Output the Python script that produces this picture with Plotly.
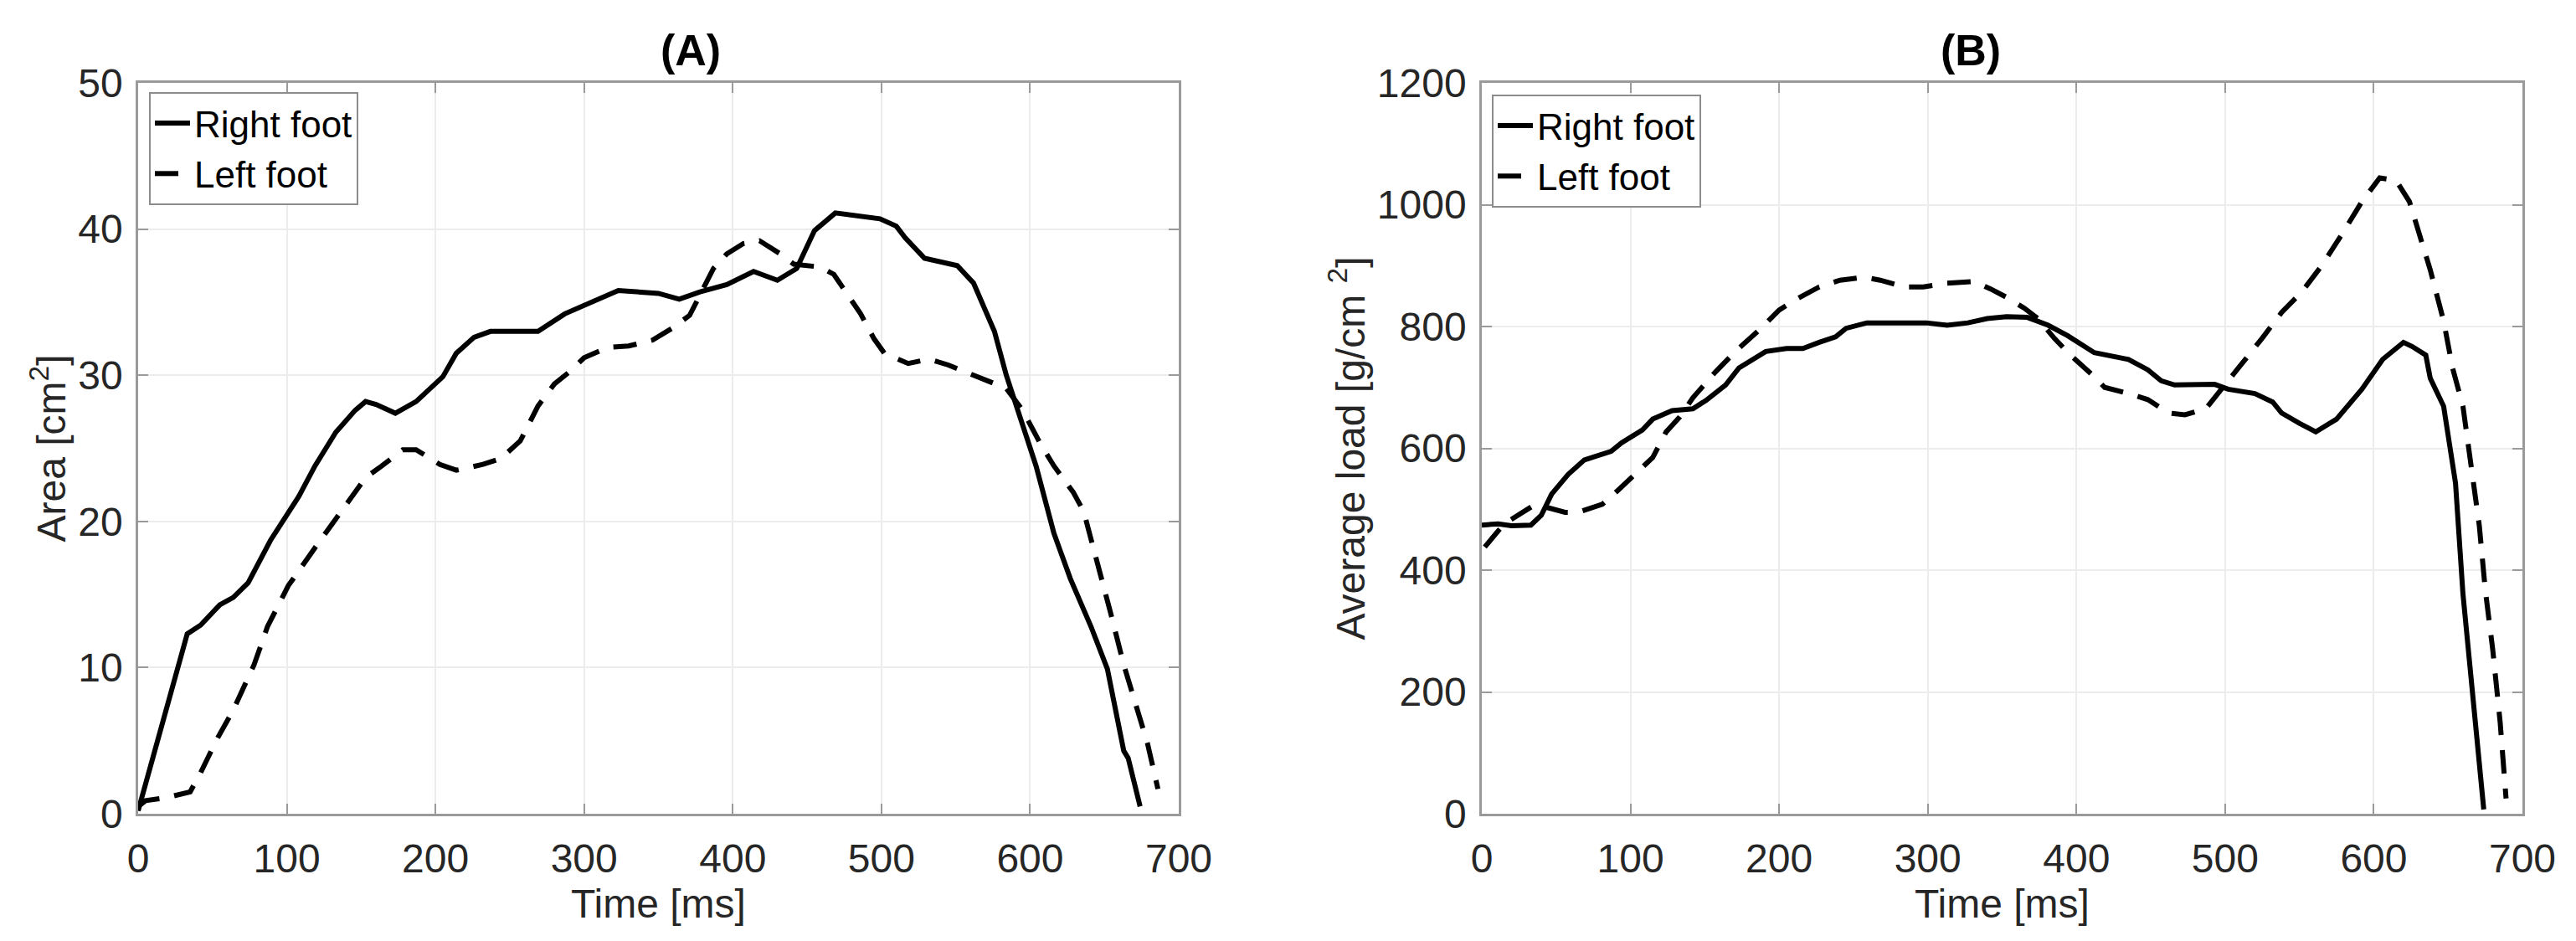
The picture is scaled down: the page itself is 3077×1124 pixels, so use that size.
import plotly.graph_objects as go

# (A) contact area [cm^2] vs time [ms]
area_right_t = [0, 16, 33, 42, 55, 64, 74, 89, 108, 119, 133, 146, 153, 160, 173, 187, 205, 214, 226, 237,
                269, 287, 309, 323, 350, 364, 378, 396, 414, 430, 443, 455, 469, 482, 499, 510, 516, 529,
                551, 562, 576, 584, 591, 604, 616, 627, 641, 652, 663, 666, 674]
area_right_v = [0.2, 6.0, 12.3, 12.9, 14.3, 14.8, 15.8, 18.7, 21.7, 23.8, 26.1, 27.6, 28.2, 28.0, 27.4, 28.2,
                29.9, 31.5, 32.6, 33.0, 33.0, 34.2, 35.2, 35.8, 35.6, 35.2, 35.7, 36.2, 37.1, 36.5, 37.3,
                39.9, 41.1, 40.9, 40.7, 40.2, 39.4, 38.0, 37.5, 36.3, 33.0, 30.0, 27.9, 23.8, 19.2, 16.1,
                12.8, 9.9, 4.3, 3.8, 0.5]
area_left_t = [0, 5, 19, 35, 42, 53, 64, 78, 87, 101, 119, 137, 153, 164, 178, 187, 203, 214, 232, 244, 257,
               269, 280, 291, 300, 316, 330, 346, 359, 371, 378, 387, 396, 407, 418, 432, 441, 459, 468, 477,
               486, 495, 502, 518, 532, 545, 559, 575, 584, 595, 607, 616, 629, 636, 645, 654, 663, 672,
               679, 686]
area_left_v = [0.5, 0.9, 1.1, 1.5, 2.8, 5.1, 7.1, 10.2, 12.8, 15.6, 18.2, 20.7, 23.0, 23.8, 24.9, 24.9, 23.9,
               23.5, 23.9, 24.3, 25.5, 27.9, 29.4, 30.3, 31.2, 31.9, 32.0, 32.4, 33.2, 34.1, 35.5, 37.3,
               38.3, 39.0, 39.2, 38.3, 37.6, 37.4, 36.9, 35.6, 34.2, 32.5, 31.5, 30.8, 31.1, 30.7, 30.1,
               29.4, 29.1, 27.6, 25.3, 23.8, 22.0, 20.7, 17.4, 13.8, 10.2, 7.1, 4.8, 1.7]

# (B) average load [g/cm^2] vs time [ms]
load_right_t = [0, 11, 20, 33, 40, 47, 58, 69, 87, 94, 108, 115, 128, 142, 151, 164, 173, 191, 205, 216,
                227, 238, 245, 259, 299, 313, 327, 340, 353, 367, 381, 394, 412, 421, 435, 448, 457, 466,
                493, 502, 520, 532, 538, 550, 561, 575, 583, 592, 606, 613, 620, 626, 635, 638, 647, 651,
                655, 660, 667, 671, 674]
load_right_v = [474, 476, 473, 474, 490, 525, 557, 581, 595, 609, 630, 648, 662, 665, 679, 704, 732, 759,
                764, 764, 774, 783, 797, 806, 806, 802, 806, 813, 816, 815, 802, 785, 757, 753, 746, 729,
                711, 704, 705, 697, 690, 676, 658, 641, 627, 648, 672, 697, 746, 760, 774, 767, 753, 715,
                669, 606, 543, 361, 193, 95, 7]
load_left_t = [2, 15, 36, 47, 56, 65, 81, 92, 106, 115, 124, 133, 142, 157, 171, 187, 200, 211, 227, 241,
               257, 268, 284, 297, 313, 331, 342, 353, 365, 374, 385, 396, 410, 419, 435, 448, 462, 473,
               487, 498, 509, 525, 538, 552, 565, 579, 592, 604, 615, 624, 631, 638, 647, 653, 660, 665,
               671, 675, 680, 685, 689]
load_left_v = [438, 476, 508, 501, 495, 495, 508, 532, 564, 585, 627, 651, 683, 725, 760, 795, 827, 844,
               865, 876, 881, 876, 865, 865, 871, 874, 862, 848, 830, 813, 781, 753, 722, 700, 690, 680,
               658, 655, 665, 697, 732, 781, 823, 858, 900, 953, 1005, 1044, 1040, 1005, 949, 893, 809,
               732, 669, 585, 473, 368, 270, 151, 25]

FONT = "Liberation Sans, Arial, sans-serif"
TXT = "#262626"
AX = "#9a9a9a"
DASH = "28px,18px"
LW = 6

fig = go.Figure()
fig.add_trace(go.Scatter(x=area_right_t, y=area_right_v, mode="lines", name="Right foot",
                         line=dict(color="black", width=LW), xaxis="x", yaxis="y", legend="legend"))
fig.add_trace(go.Scatter(x=area_left_t, y=area_left_v, mode="lines", name="Left foot",
                         line=dict(color="black", width=LW, dash=DASH), xaxis="x", yaxis="y", legend="legend"))
fig.add_trace(go.Scatter(x=load_right_t, y=load_right_v, mode="lines", name="Right foot",
                         line=dict(color="black", width=LW), xaxis="x2", yaxis="y2", legend="legend2"))
fig.add_trace(go.Scatter(x=load_left_t, y=load_left_v, mode="lines", name="Left foot",
                         line=dict(color="black", width=LW, dash=DASH), xaxis="x2", yaxis="y2", legend="legend2"))

W, H = 3077, 1124
OFF = 8  # page body margin


def px_x(px):
    return (px - OFF) / W


def px_y(py):
    return 1 - (py - OFF) / H


dom_a = [px_x(165), px_x(1408)]
dom_b = [px_x(1770), px_x(3013)]
dom_y = [px_y(972), px_y(99)]

axis_common = dict(
    showline=True, linecolor=AX, linewidth=2.5, mirror="ticks",
    ticks="inside", ticklen=12, tickcolor=AX, tickwidth=2,
    showgrid=True, gridcolor="#ececec", gridwidth=1.5, zeroline=False,
    tickfont=dict(family=FONT, size=48, color=TXT), automargin=False,
)

legend_common = dict(
    font=dict(family=FONT, size=44, color="black"),
    bgcolor="white", bordercolor="#8c8c8c", borderwidth=2,
    xanchor="left", yanchor="top", tracegroupgap=0, itemwidth=42,
)

fig.update_layout(
    width=W, height=H,
    margin=dict(l=0, r=0, t=0, b=0, autoexpand=False),
    plot_bgcolor="white", paper_bgcolor="white",
    xaxis=dict(axis_common, domain=dom_a, range=[0, 700], dtick=100, anchor="y",
               title=dict(text="Time [ms]", font=dict(family=FONT, size=48, color=TXT), standoff=12),
               ticklabelstandoff=10),
    yaxis=dict(axis_common, domain=dom_y, range=[0, 50], dtick=10, anchor="x",
               title=dict(text="Area [cm<sup>2</sup>]", font=dict(family=FONT, size=48, color=TXT), standoff=0),
               ticklabelstandoff=6),
    xaxis2=dict(axis_common, domain=dom_b, range=[0, 700], dtick=100, anchor="y2",
                title=dict(text="Time [ms]", font=dict(family=FONT, size=48, color=TXT), standoff=12),
                ticklabelstandoff=10),
    yaxis2=dict(axis_common, domain=dom_y, range=[0, 1200], dtick=200, anchor="x2",
                title=dict(text="Average load [g/cm <sup>2</sup>]", font=dict(family=FONT, size=48, color=TXT),
                           standoff=0),
                ticklabelstandoff=6),
    legend=dict(legend_common, x=px_x(178), y=px_y(110)),
    legend2=dict(legend_common, x=px_x(1782), y=px_y(113)),
    annotations=[
        dict(text="<b>(A)</b>", x=(dom_a[0] + dom_a[1]) / 2, y=px_y(60), xref="paper", yref="paper",
             yanchor="middle", showarrow=False, font=dict(family=FONT, size=52, color="black")),
        dict(text="<b>(B)</b>", x=(dom_b[0] + dom_b[1]) / 2, y=px_y(60), xref="paper", yref="paper",
             yanchor="middle", showarrow=False, font=dict(family=FONT, size=52, color="black")),
    ],
)

fig.write_html("out.html")
